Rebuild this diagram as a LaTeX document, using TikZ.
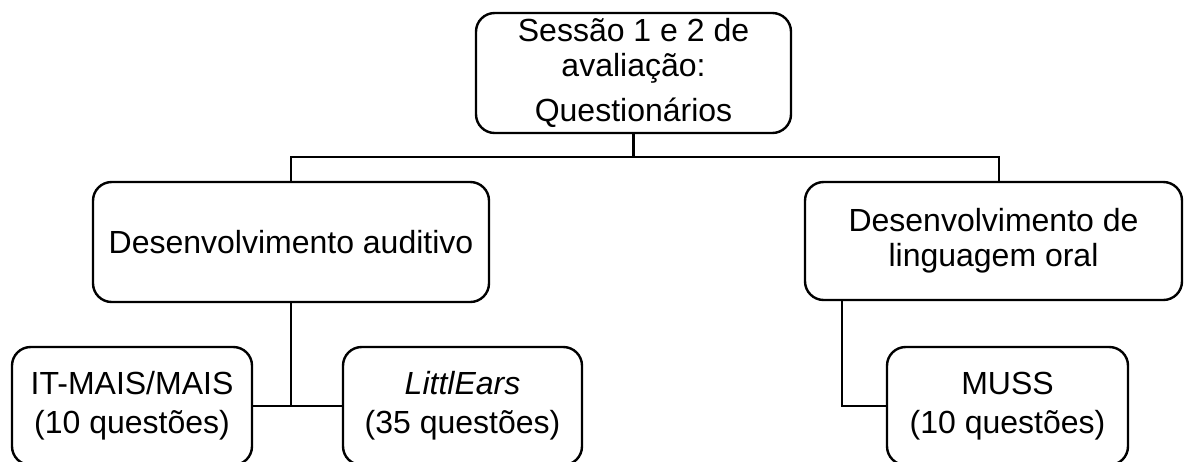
\documentclass[tikz,border=0pt]{standalone}
\usepackage{fontspec}
\setmainfont{Liberation Sans}
\begin{document}
\begin{tikzpicture}[x=0.75pt,y=-0.75pt,
  box/.style={draw=black,line width=1.8pt,rounded corners=14pt,align=center,
    inner sep=0pt,font=\fontsize{24}{26.5}\selectfont},
  conn/.style={draw=black,line width=1.8pt}]
\useasboundingbox (0,0) rectangle (1184,461);
\node[box,minimum width=236.25pt,minimum height=90pt] (top) at (633.5,73)
  {Sessão 1 e 2 de\\avaliação:\\[7.5pt]Questionários};
\node[box,minimum width=297pt,minimum height=90pt] (aud) at (291,242)
  {Desenvolvimento auditivo};
\node[box,minimum width=282.75pt,minimum height=88.5pt] (lang) at (993.5,241)
  {Desenvolvimento de\\linguagem oral};
\node[box,minimum width=180pt,minimum height=88.5pt] (it) at (132,406)
  {IT-MAIS/MAIS\\[2.8pt](10 questões)};
\node[box,minimum width=179.25pt,minimum height=88.5pt] (le) at (462.5,406)
  {\textit{LittlEars}\\[2.8pt](35 questões)};
\node[box,minimum width=180.75pt,minimum height=88.5pt] (muss) at (1007.5,406)
  {MUSS\\[2.8pt](10 questões)};
\coordinate (j) at (633.5,157);
\draw[conn] (top.south) -- (j);
\draw[conn] (j) -| (aud.north);
\draw[conn] (j) -| ([xshift=4pt]lang.north);
\draw[conn] (aud.south) -- (aud.south |- it.east);
\draw[conn] (it.east) -- (le.west);
\draw[conn] ([xshift=28.5pt]lang.south west) |- (muss.west);
\end{tikzpicture}
\end{document}
